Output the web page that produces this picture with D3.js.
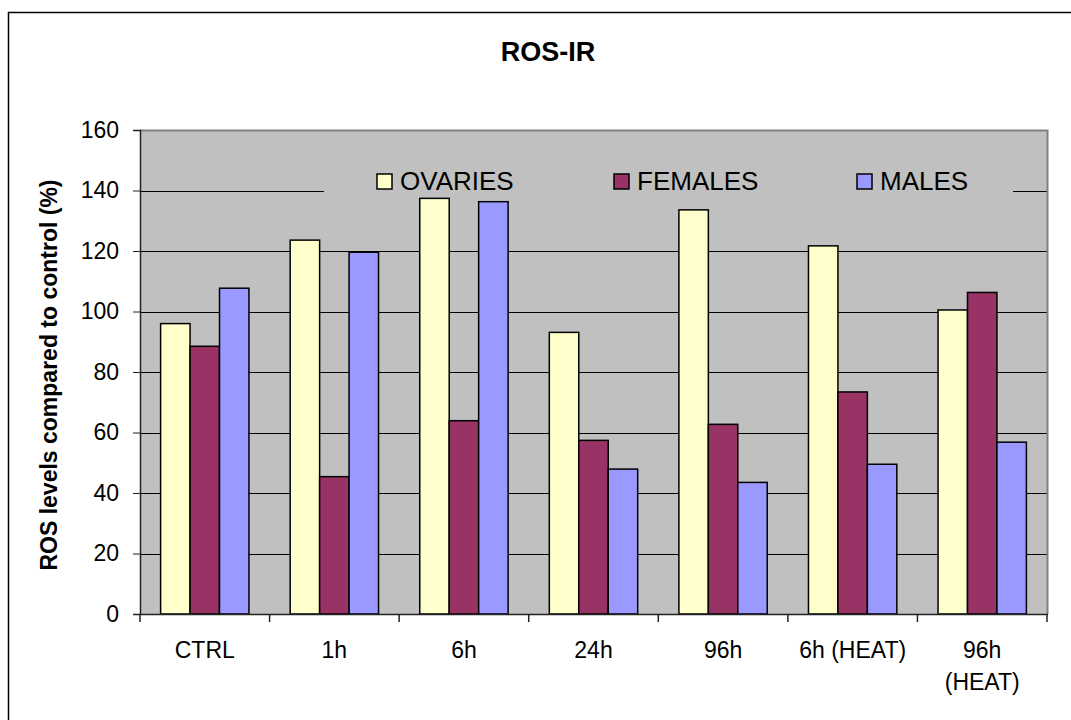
<!DOCTYPE html>
<html>
<head>
<meta charset="utf-8">
<script src="https://cdn.jsdelivr.net/npm/d3@7"></script>
<style>
  body { margin: 0; background: #fff; }
  text { font-family: Arial, "Liberation Sans", sans-serif; }
</style>
</head>
<body>
<script>
const categories = [["CTRL"], ["1h"], ["6h"], ["24h"], ["96h"], ["6h (HEAT)"], ["96h", "(HEAT)"]]
const seriesNames = ["OVARIES", "FEMALES", "MALES"]
const ovaries = [96, 123.6, 137.4, 93.1, 133.6, 121.7, 100.5]
const females = [88.5, 45.4, 63.9, 57.4, 62.7, 73.4, 106.3]
const males = [107.7, 119.6, 136.3, 47.9, 43.5, 49.5, 56.8]
const yTicks = [0, 20, 40, 60, 80, 100, 120, 140, 160]
const colors = ["#FFFFCC", "#993366", "#9999FF"]

const width = 1071, height = 720
const plot = { left: 140, top: 130, right: 1047, bottom: 614 }

const svg = d3.select("body").append("svg")
    .attr("width", width)
    .attr("height", height)

// outer chart border
svg.append("rect")
    .attr("x", 8.5).attr("y", 12.5)
    .attr("width", 1100).attr("height", 800)
    .attr("fill", "#fff")
    .attr("stroke", "#000")
    .attr("stroke-width", 1.5)

const x = d3.scaleBand()
    .domain(categories.map((d, i) => i))
    .range([plot.left, plot.right])

const xInner = d3.scaleBand()
    .domain(seriesNames)
    .range([0, x.bandwidth()])
    .paddingOuter(0.7)

const y = d3.scaleLinear().domain([0, 160]).range([plot.bottom, plot.top])

// plot background
svg.append("rect")
    .attr("x", plot.left).attr("y", plot.top)
    .attr("width", plot.right - plot.left).attr("height", plot.bottom - plot.top)
    .attr("fill", "#C0C0C0")

// gridlines
svg.append("g").selectAll("line")
    .data(yTicks.filter(t => t > 0 && t < 160))
    .join("line")
    .attr("x1", plot.left).attr("x2", plot.right)
    .attr("y1", d => Math.round(y(d)) + 0.5).attr("y2", d => Math.round(y(d)) + 0.5)
    .attr("stroke", "#000")
    .attr("stroke-width", 1)

// plot border (top and right gray)
svg.append("path")
    .attr("d", `M${plot.left},${plot.top + 0.5}H${plot.right + 0.5}V${plot.bottom}`)
    .attr("fill", "none")
    .attr("stroke", "#808080")
    .attr("stroke-width", 2)

// legend box hides part of the 140 gridline
const legend = svg.append("g")
legend.append("rect")
    .attr("x", 324).attr("y", 160)
    .attr("width", 689).attr("height", 44)
    .attr("fill", "#C0C0C0")

const legendX = [377, 614, 857]
seriesNames.forEach((name, i) => {
    legend.append("rect")
        .attr("x", legendX[i]).attr("y", 174)
        .attr("width", 15).attr("height", 15)
        .attr("fill", colors[i])
        .attr("stroke", "#000")
        .attr("stroke-width", 1.5)
    legend.append("text")
        .attr("x", legendX[i] + 23).attr("y", 190)
        .attr("font-size", 26)
        .attr("fill", "#000")
        .text(name)
})

// bars
const seriesData = [ovaries, females, males]
const barsG = svg.append("g")
seriesNames.forEach((name, si) => {
    barsG.append("g").selectAll("rect")
        .data(seriesData[si])
        .join("rect")
        .attr("x", (d, i) => x(i) + xInner(name))
        .attr("y", d => y(d))
        .attr("width", xInner.bandwidth())
        .attr("height", d => y(0) - y(d))
        .attr("fill", colors[si])
        .attr("stroke", "#000")
        .attr("stroke-width", 1.5)
})

// y axis
const yAxis = svg.append("g")
    .attr("transform", `translate(${plot.left},0)`)
    .call(d3.axisLeft(y).tickValues(yTicks).tickSize(7).tickPadding(14))
yAxis.select(".domain").attr("stroke", "#222").attr("stroke-width", 1.5)
yAxis.selectAll(".tick line").attr("stroke", "#222")
yAxis.selectAll("text").attr("font-size", 23).attr("fill", "#000")
    .style("font-family", "Arial, 'Liberation Sans', sans-serif")

// x axis
const xAxis = svg.append("g")
    .attr("transform", `translate(0,${plot.bottom})`)
xAxis.append("line")
    .attr("x1", plot.left).attr("x2", plot.right + 1)
    .attr("y1", 0.5).attr("y2", 0.5)
    .attr("stroke", "#222").attr("stroke-width", 1.5)
xAxis.selectAll(".xtick")
    .data(d3.range(categories.length + 1))
    .join("line")
    .attr("class", "xtick")
    .attr("x1", i => i < categories.length ? x(i) : plot.right)
    .attr("x2", i => i < categories.length ? x(i) : plot.right)
    .attr("y1", 0).attr("y2", 8)
    .attr("stroke", "#222").attr("stroke-width", 1.5)
categories.forEach((lines, i) => {
    const t = xAxis.append("text")
        .attr("text-anchor", "middle")
        .attr("font-size", 23)
        .attr("fill", "#000")
    lines.forEach((l, li) => {
        t.append("tspan")
            .attr("x", x(i) + x.bandwidth() / 2)
            .attr("y", 44 + li * 32)
            .text(l)
    })
})

// title
svg.append("text")
    .attr("x", 548).attr("y", 61)
    .attr("text-anchor", "middle")
    .attr("font-size", 27)
    .attr("font-weight", "bold")
    .text("ROS-IR")

// y axis title
svg.append("text")
    .attr("transform", `translate(57,${(plot.top + plot.bottom) / 2 + 3}) rotate(-90)`)
    .attr("text-anchor", "middle")
    .attr("font-size", 23)
    .attr("font-weight", "bold")
    .text("ROS levels compared to control (%)")
</script>
</body>
</html>
